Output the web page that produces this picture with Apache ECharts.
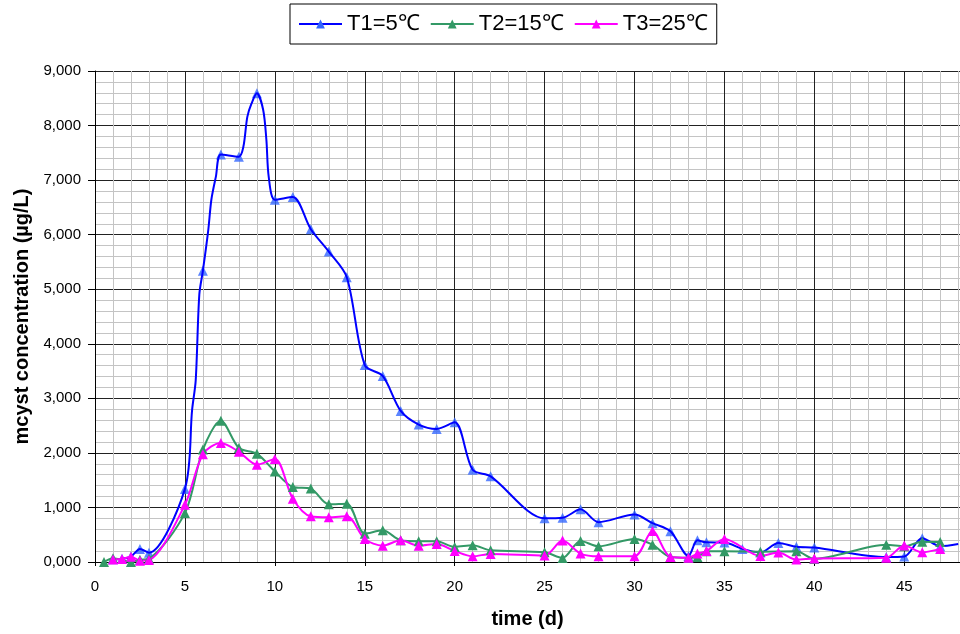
<!DOCTYPE html>
<html><head><meta charset="utf-8">
<script src="https://cdn.jsdelivr.net/npm/echarts@6/dist/echarts.min.js"></script>
<style>html,body{margin:0;padding:0;background:#fff}#c{width:960px;height:634px}</style>
</head><body><div id="c"></div>
<script>
const seriesNames = ['T1=5℃', 'T2=15℃', 'T3=25℃'];
const xTitle = 'time (d)';
const yTitle = 'mcyst concentration (µg/L)';
const yTickLabels = ['0,000','1,000','2,000','3,000','4,000','5,000','6,000','7,000','8,000','9,000'];

// T1 = 5 C (points with markers)
const t1Days = [1,1.5,2,2.5,3,5,6,7,8,9,10,11,12,13,14,15,16,17,18,19,20,21,22,25,26,27,28,30,31,32,33,33.5,34,35,36,37,38,39,40,44,45,46,47];
const t1Vals = [50,60,100,240,170,1340,5340,7470,7430,8590,6640,6690,6100,5690,5220,3610,3410,2770,2520,2440,2560,1690,1570,800,810,965,730,870,712,562,110,397,360,358,240,175,350,280,265,90,100,435,290];
// T1 curve bends without markers
const t1BendDays = [5.4,5.6,5.8,6.3,6.47,6.72,8.25,8.47,8.7,9.35,9.53,9.66,48];
const t1BendVals = [2790,3330,4900,6090,6640,7060,7610,8160,8400,8290,7740,7060,330];

// T2 = 15 C
const t2Days = [0.5,1,2,2.5,3,5,6,7,8,9,10,11,12,13,14,15,16,17,18,19,20,21,22,25,26,27,28,30,31,32,33,33.5,34,35,37,39,40,44,45,46,47];
const t2Vals = [0,70,0,40,60,900,2060,2590,2090,1985,1660,1375,1345,1057,1070,520,581,397,380,380,277,306,214,178,75,386,288,423,318,93,80,93,196,196,190,196,57,318,288,370,365];

// T3 = 25 C
const t3Days = [1,1.5,2,2.5,3,5,6,7,8,9,10,11,12,13,14,15,16,17,18,19,20,21,22,25,26,27,28,30,31,32,33,33.5,34,35,37,38,39,40,44,45,46,47];
const t3Vals = [45,57,95,25,35,1050,1975,2181,2020,1784,1890,1161,837,819,837,423,300,397,300,331,203,104,148,117,392,154,104,104,570,93,80,154,200,423,110,175,44,65,80,303,178,240];

function pairs(d, v) { return d.map((x, i) => [x, v[i]]); }
const t1Curve = pairs(t1Days.concat(t1BendDays), t1Vals.concat(t1BendVals)).sort((a, b) => a[0] - b[0]);

const FONT = 'Liberation Sans, Arial, sans-serif';
const X_MAX = 48.1;
const chart = echarts.init(document.getElementById('c'), null, {renderer: 'canvas'});

const option = {
  animation: false,
  backgroundColor: '#fff',
  grid: {left: 95, right: -8, top: 71, bottom: 71, containLabel: false},
  legend: {
    left: 290, top: 4,
    data: seriesNames,
    orient: 'horizontal',
    itemWidth: 43, itemHeight: 11, itemGap: 10,
    padding: [9, 9, 9, 8],
    borderColor: '#000', borderWidth: 1,
    textStyle: {fontFamily: FONT, fontSize: 22, color: '#000'}
  },
  xAxis: [
    {
      type: 'value', position: 'bottom', min: 0, max: X_MAX, interval: 1,
      axisLine: {show: false}, axisTick: {show: false}, axisLabel: {show: false},
      splitLine: {show: true, lineStyle: {color: '#c4c4c4', width: 1}}
    },
    {
      type: 'value', position: 'bottom', offset: 0, min: 0, max: X_MAX, interval: 5,
      name: xTitle, nameLocation: 'middle', nameGap: 47,
      nameTextStyle: {fontFamily: FONT, fontSize: 20, fontWeight: 'bold', color: '#000'},
      axisLine: {show: true, onZero: false, lineStyle: {color: '#000', width: 1}},
      axisTick: {show: true, length: 4, lineStyle: {color: '#000'}},
      axisLabel: {fontFamily: FONT, fontSize: 15, color: '#000', margin: 17, showMaxLabel: false,
        formatter: v => (v % 5 === 0 ? String(v) : '')},
      splitLine: {show: true, lineStyle: {color: '#222', width: 1}}
    }
  ],
  yAxis: {
    type: 'value', min: 0, max: 9000, interval: 1000,
    name: yTitle, nameLocation: 'middle', nameGap: 63,
    nameTextStyle: {fontFamily: FONT, fontSize: 20, fontWeight: 'bold', color: '#000'},
    axisLine: {show: true, lineStyle: {color: '#000', width: 1}},
    axisTick: {show: true, length: 7, lineStyle: {color: '#000'}},
    axisLabel: {fontFamily: FONT, fontSize: 15, color: '#000', margin: 14,
      formatter: v => yTickLabels[Math.round(v / 1000)] || ''},
    splitLine: {show: true, lineStyle: {color: '#222', width: 1}},
    minorTick: {show: false, splitNumber: 5},
    minorSplitLine: {show: true, lineStyle: {color: '#c4c4c4', width: 1}}
  },
  series: [
    {
      name: seriesNames[0], type: 'line', xAxisIndex: 1, data: t1Curve,
      smooth: 0.3, showSymbol: false, symbol: 'triangle', symbolSize: 10,
      lineStyle: {color: '#0000ff', width: 2}, itemStyle: {color: '#3366ff'}
    },
    {
      name: 'T1 markers', type: 'scatter', xAxisIndex: 1, data: pairs(t1Days, t1Vals),
      symbol: 'triangle', symbolSize: 10, itemStyle: {color: '#3366ff'}
    },
    {
      name: seriesNames[1], type: 'line', xAxisIndex: 1, data: pairs(t2Days, t2Vals),
      smooth: 0.3, showSymbol: true, showAllSymbol: true, symbol: 'triangle', symbolSize: 10,
      lineStyle: {color: '#339966', width: 2}, itemStyle: {color: '#339966'}
    },
    {
      name: seriesNames[2], type: 'line', xAxisIndex: 1, data: pairs(t3Days, t3Vals),
      smooth: 0.3, showSymbol: true, showAllSymbol: true, symbol: 'triangle', symbolSize: 10,
      lineStyle: {color: '#ff00ff', width: 2}, itemStyle: {color: '#ff00ff'}
    }
  ]
};
chart.setOption(option);
</script>
</body></html>
